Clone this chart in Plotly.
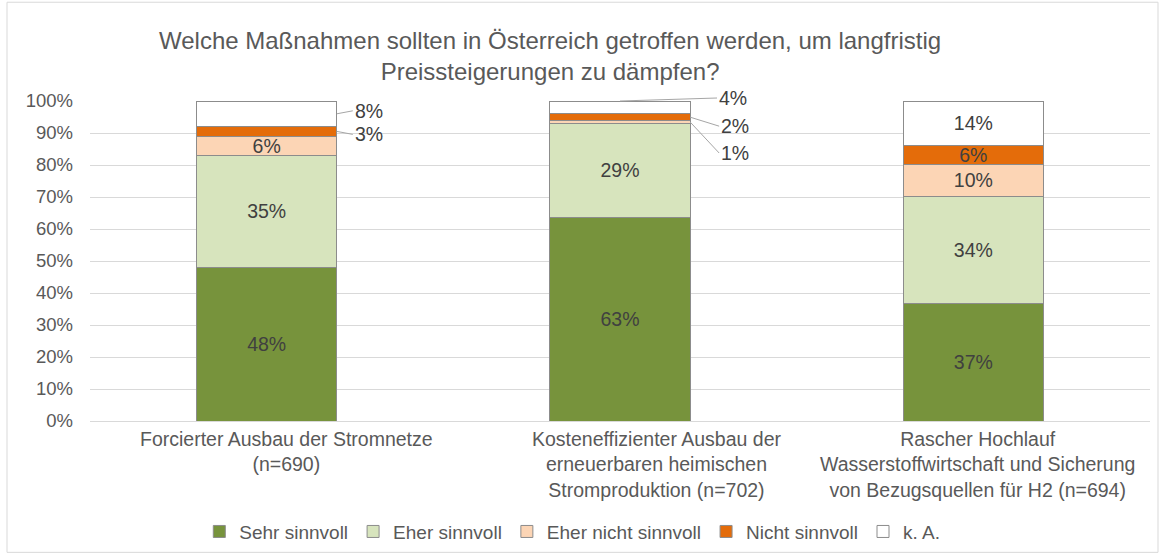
import plotly.graph_objects as go

# Survey categories (x axis labels)
categories = [
    "Forcierter Ausbau der Stromnetze<br>(n=690)",
    "Kosteneffizienter Ausbau der<br>erneuerbaren heimischen<br>Stromproduktion (n=702)",
    "Rascher Hochlauf<br>Wasserstoffwirtschaft und Sicherung<br>von Bezugsquellen für H2 (n=694)",
]

# Answer shares in percent, one list per answer option
sehr_sinnvoll = [48, 63, 37]
eher_sinnvoll = [35, 29, 34]
eher_nicht_sinnvoll = [6, 1, 10]
nicht_sinnvoll = [3, 2, 6]
keine_angabe = [8, 4, 14]

series_names = ["Sehr sinnvoll", "Eher sinnvoll", "Eher nicht sinnvoll", "Nicht sinnvoll", "k. A."]
series_values = [sehr_sinnvoll, eher_sinnvoll, eher_nicht_sinnvoll, nicht_sinnvoll, keine_angabe]
series_colors = ["#77933C", "#D7E4BD", "#FCD5B5", "#E46C0A", "#FFFFFF"]

# Segments too thin for an inside label get a callout instead: (series index, category index)
callouts = {(4, 0), (3, 0), (4, 1), (3, 1), (2, 1)}

title_text = "Welche Maßnahmen sollten in Österreich getroffen werden, um langfristig<br>Preissteigerungen zu dämpfen?"

FONT = "Liberation Sans, Arial, sans-serif"
LABEL_COLOR = "#404040"
AXIS_COLOR = "#595959"
LABEL_SIZE = 19.5

BAR_WIDTH = 0.397

fig = go.Figure()
for s, (name, vals, col) in enumerate(zip(series_names, series_values, series_colors)):
    texts = ["" if (s, c) in callouts else f"{v}%" for c, v in enumerate(vals)]
    fig.add_trace(go.Bar(
        name=name,
        x=list(range(len(categories))),
        y=vals,
        text=texts,
        textposition="inside",
        insidetextanchor="middle",
        textfont=dict(family=FONT, size=LABEL_SIZE, color=LABEL_COLOR),
        marker=dict(color=col, line=dict(color="#8C8C8C", width=1)),
        width=BAR_WIDTH,
        hoverinfo="skip",
    ))

# Normalised positions of the stacked segments, used for callout anchors
totals = [sum(v[c] for v in series_values) for c in range(len(categories))]

def seg_mid(s, c):
    lower = sum(series_values[k][c] for k in range(s))
    return 100.0 * (lower + series_values[s][c] / 2.0) / totals[c]

half_w = BAR_WIDTH / 2
callout_specs = [
    # (series, category, anchor at bar edge?, text dx, text dy)
    (4, 0, True, 16, -3),
    (3, 0, True, 16, 3),
    (4, 1, False, 97, -3),
    (3, 1, True, 29, 9),
    (2, 1, True, 29, 31),
]
for s, c, at_edge, dx, dy in callout_specs:
    x_anchor = c + half_w if at_edge else c
    y_anchor = seg_mid(s, c) if at_edge else 100.0
    fig.add_annotation(
        x=x_anchor, y=y_anchor, xref="x", yref="y",
        text=f"{series_values[s][c]}%",
        showarrow=True, arrowhead=0, arrowwidth=1, arrowcolor="#A6A6A6",
        ax=dx, ay=dy, axref="pixel", ayref="pixel",
        xanchor="left", yanchor="middle",
        font=dict(family=FONT, size=LABEL_SIZE, color=LABEL_COLOR),
        standoff=0, startstandoff=0,
    )

# Category labels below the axis (wrapped text blocks, nudged right like the original layout)
label_shift = [20, 36, 4]
for c, label in enumerate(categories):
    fig.add_annotation(
        x=c, y=0, xref="x", yref="y",
        text=label, showarrow=False,
        xanchor="center", yanchor="top", align="center",
        xshift=label_shift[c], yshift=-5,
        font=dict(family=FONT, size=19.5, color=AXIS_COLOR),
    )

# Title
fig.add_annotation(
    text=title_text, xref="paper", yref="paper",
    x=(550 - 90) / 1060, y=1.0 + (101 - 55) / 324,
    xanchor="center", yanchor="middle", showarrow=False,
    font=dict(family=FONT, size=24, color=AXIS_COLOR),
)

# Chart frame
fig.add_shape(
    type="rect", xref="paper", yref="paper",
    x0=(7 - 90) / 1060, x1=(1158 - 90) / 1060,
    y0=(425 - 558) / 324, y1=(425 - 1) / 324,
    line=dict(color="#D9D9D9", width=1), fillcolor="rgba(0,0,0,0)", layer="below",
)

fig.update_layout(
    barmode="stack",
    barnorm="percent",
    width=1160, height=560,
    margin=dict(l=90, r=10, t=101, b=135),
    paper_bgcolor="white", plot_bgcolor="white",
    font=dict(family=FONT, color=AXIS_COLOR),
    uniformtext=dict(minsize=LABEL_SIZE, mode="show"),
    showlegend=True,
    legend=dict(
        orientation="h", x=0.455, xanchor="center", y=(425 - 537) / 324, yanchor="middle",
        font=dict(family=FONT, size=19, color=AXIS_COLOR),
        traceorder="normal", itemclick=False, itemdoubleclick=False,
    ),
    xaxis=dict(
        tickmode="array", tickvals=list(range(len(categories))),
        showticklabels=False,
        range=[-0.5, len(categories) - 0.5],
        showgrid=False, showline=True, linecolor="#D9D9D9", linewidth=1,
        ticks="",
    ),
    yaxis=dict(
        range=[0, 100], tickmode="linear", tick0=0, dtick=10, ticksuffix="%",
        showgrid=True, gridcolor="#D9D9D9", gridwidth=1,
        zeroline=False, showline=False, ticks="",
        tickfont=dict(family=FONT, size=18.5, color=AXIS_COLOR),
        ticklabelstandoff=16,
    ),
)

fig.write_html("out.html")
